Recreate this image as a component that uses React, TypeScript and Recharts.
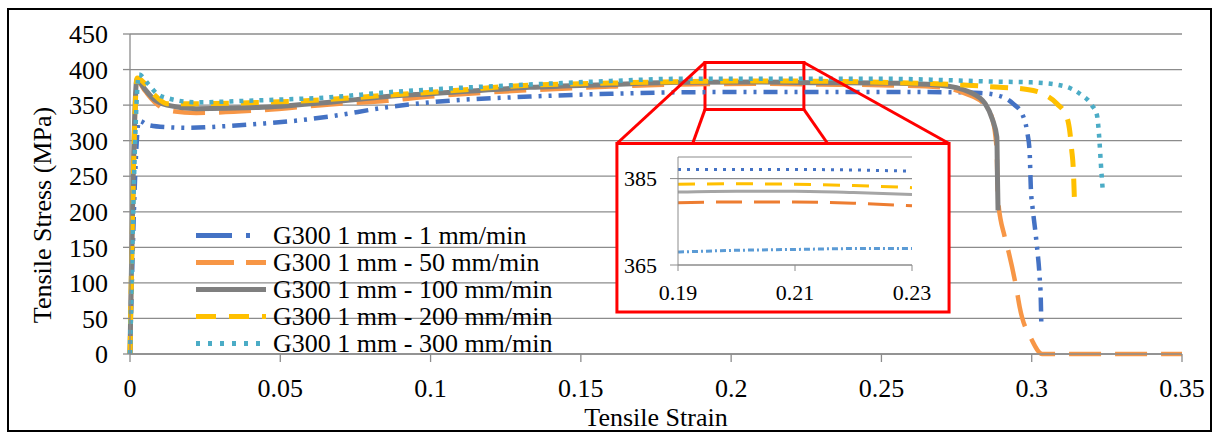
import React from 'react'
import {
  LineChart,
  Line,
  XAxis,
  YAxis,
  CartesianGrid,
  Legend,
  ReferenceArea,
  ReferenceLine,
} from 'recharts'

const FONT = 'Liberation Serif, DejaVu Serif, serif'
const GRID = '#8C8C8C'
const RED = '#FF0000'
const TICK = { fill: '#000', fontSize: 26, fontFamily: FONT }
const INSET_TICK = { fill: '#000', fontSize: 22, fontFamily: FONT }

const STRAIN_TICKS = [0, 0.05, 0.1, 0.15, 0.2, 0.25, 0.3, 0.35]
const STRESS_TICKS = [0, 50, 100, 150, 200, 250, 300, 350, 400, 450]
const INSET_STRAIN_TICKS = [0.19, 0.21, 0.23]
const INSET_STRESS_TICKS = [365, 385]

// [strain, stress MPa]
const RATE_1: [number, number][] = [
  [0, 0], [0.003, 328], [0.006, 322], [0.012, 319], [0.02, 318], [0.03, 320], [0.044, 324],
  [0.055, 328], [0.0665, 334], [0.0855, 347], [0.1, 354], [0.133, 362], [0.16, 366],
  [0.183, 368], [0.21, 368.5], [0.25, 368.5], [0.275, 368], [0.283, 367], [0.29, 362],
  [0.2938, 352], [0.297, 336], [0.2985, 312], [0.2993, 285], [0.2997, 234], [0.3003, 205],
  [0.301, 180], [0.3017, 153], [0.3027, 104], [0.303, 80], [0.3032, 41],
]
const RATE_50: [number, number][] = [
  [0, 0], [0.0024, 384], [0.005, 370], [0.008, 355], [0.0123, 343], [0.022, 339], [0.0443, 343],
  [0.0665, 351], [0.0855, 356], [0.1, 362], [0.133, 371], [0.16, 376], [0.183, 379], [0.21, 380],
  [0.23, 379], [0.25, 378], [0.27, 375], [0.278, 366], [0.2845, 350], [0.287, 329], [0.2883, 290],
  [0.2888, 216], [0.291, 165], [0.2924, 142], [0.295, 90], [0.296, 66], [0.3, 20], [0.3035, 0],
  [0.35, 0],
]
const RATE_100: [number, number][] = [
  [0, 0], [0.0023, 386], [0.005, 372], [0.008, 358], [0.0123, 350], [0.022, 345], [0.0443, 347],
  [0.0665, 354], [0.0855, 362], [0.1, 366], [0.133, 375], [0.16, 379], [0.183, 382], [0.21, 382.5],
  [0.23, 381.5], [0.25, 381], [0.2695, 378], [0.2795, 368], [0.2845, 352], [0.287, 329],
  [0.2884, 305], [0.2886, 250], [0.2888, 202],
]
const RATE_200: [number, number][] = [
  [0, 0], [0.0024, 388], [0.005, 380], [0.008, 365], [0.0123, 352], [0.022, 352], [0.0443, 354],
  [0.0665, 358], [0.0855, 364], [0.1, 368], [0.133, 378], [0.16, 381], [0.183, 383], [0.21, 384],
  [0.23, 383.5], [0.25, 382], [0.2785, 378], [0.2894, 375], [0.2985, 372], [0.3037, 366],
  [0.3084, 352], [0.3117, 333], [0.3127, 312], [0.3133, 287], [0.3138, 263], [0.3143, 205],
]
const RATE_300: [number, number][] = [
  [0, 0], [0.003, 393], [0.006, 380], [0.009, 366], [0.0123, 360], [0.022, 354], [0.0443, 357],
  [0.0665, 361], [0.0855, 368], [0.1, 372], [0.133, 379], [0.16, 384], [0.183, 387], [0.21, 387],
  [0.25, 387], [0.2885, 383], [0.3, 382], [0.3094, 378], [0.3127, 374], [0.316, 366], [0.32, 350],
  [0.3217, 336], [0.3224, 308], [0.323, 268], [0.3237, 226],
]

// zoomed window 0.19 - 0.23
const INSET_1: [number, number][] = [[0.19, 368.0], [0.2, 368.4], [0.21, 368.6], [0.22, 368.8], [0.23, 368.8]]
const INSET_50: [number, number][] = [[0.19, 379.4], [0.2, 379.6], [0.21, 379.6], [0.22, 379.3], [0.23, 378.7]]
const INSET_100: [number, number][] = [[0.19, 381.9], [0.2, 382.1], [0.21, 382.1], [0.22, 381.8], [0.23, 381.3]]
const INSET_200: [number, number][] = [[0.19, 383.7], [0.2, 383.8], [0.21, 383.7], [0.22, 383.4], [0.23, 382.9]]
const INSET_300: [number, number][] = [[0.19, 387.1], [0.2, 387.1], [0.21, 387.1], [0.22, 387.0], [0.23, 386.7]]

// annotation boxes in data units
const ZOOM_BOX = { x1: 0.1913, x2: 0.2242, y1: 344, y2: 410 }
const INSET_BOX = { x1: 0.162, x2: 0.2725, y1: 59, y2: 296 }
const LINK_FOOT = [0.1872, 0.2321]

const toPts = (arr: [number, number][]) => arr.map(([strain, stress]) => ({ strain, stress }))

const SERIES = [
  { key: 'r1', name: 'G300 1 mm - 1 mm/min', points: RATE_1, inset: INSET_1, color: '#4472C4', insetColor: '#5B9BD5', width: 4.5, dash: '14 7 3 7 3 7', legendDash: '36 14 4 40', insetDash: '6 3 2 3' },
  { key: 'r50', name: 'G300 1 mm - 50 mm/min', points: RATE_50, inset: INSET_50, color: '#F79646', insetColor: '#ED7D31', width: 4.5, dash: '32 14', legendDash: '38 12', insetDash: '26 12' },
  { key: 'r100', name: 'G300 1 mm - 100 mm/min', points: RATE_100, inset: INSET_100, color: '#7F7F7F', insetColor: '#A5A5A5', width: 5, dash: undefined, legendDash: undefined, insetDash: undefined },
  { key: 'r200', name: 'G300 1 mm - 200 mm/min', points: RATE_200, inset: INSET_200, color: '#FFC000', insetColor: '#FFC000', width: 5, dash: '18 12', legendDash: '20 13', insetDash: '17 12' },
  { key: 'r300', name: 'G300 1 mm - 300 mm/min', points: RATE_300, inset: INSET_300, color: '#4BACC6', insetColor: '#4472C4', width: 4.5, dash: '4 6', legendDash: '4 8', insetDash: '3 6' },
]

function SeriesLegend() {
  return (
    <div style={{ fontFamily: FONT, fontSize: 26, color: '#000' }}>
      {SERIES.map(s => (
        <div key={s.key} style={{ display: 'flex', alignItems: 'center', height: 27 }}>
          <svg width={72} height={27} style={{ flex: 'none' }}>
            <line x1={1} x2={71} y1={13.5} y2={13.5} stroke={s.color} strokeWidth={5} strokeDasharray={s.legendDash} />
          </svg>
          <span style={{ marginLeft: 6, lineHeight: '27px', whiteSpace: 'nowrap' }}>{s.name}</span>
        </div>
      ))}
    </div>
  )
}

const yTitle = () => (
  <text x={42} y={215} transform="rotate(-90 42 215)" textAnchor="middle" dominantBaseline="central" fontSize={26} fontFamily={FONT} fill="#000">
    Tensile Stress (MPa)
  </text>
)

const xTitle = () => (
  <text x={656} y={426} textAnchor="middle" fontSize={26} fontFamily={FONT} fill="#000">
    Tensile Strain
  </text>
)

function MainChart() {
  return (
    <LineChart width={1219} height={437} margin={{ top: 34, right: 37, bottom: 43, left: 70 }}>
      <CartesianGrid vertical={false} stroke={GRID} strokeWidth={1.3} />
      <XAxis
        dataKey="strain"
        type="number"
        domain={[0, 0.35]}
        ticks={STRAIN_TICKS}
        height={40}
        stroke={GRID}
        strokeWidth={1.3}
        tick={TICK}
        tickSize={8}
        tickMargin={17}
        label={xTitle}
      />
      <YAxis
        type="number"
        domain={[0, 450]}
        ticks={STRESS_TICKS}
        width={60}
        stroke={GRID}
        strokeWidth={1.3}
        tick={TICK}
        tickSize={7}
        tickMargin={15}
        label={yTitle}
      />
      <ReferenceArea {...INSET_BOX} fill="#fff" fillOpacity={1} stroke={RED} strokeWidth={3} />
      {SERIES.map(s => (
        <Line
          key={s.key}
          data={toPts(s.points)}
          dataKey="stress"
          name={s.name}
          type="monotone"
          stroke={s.color}
          strokeWidth={s.width}
          strokeDasharray={s.dash}
          dot={false}
          activeDot={false}
          isAnimationActive={false}
        />
      ))}
      <ReferenceArea {...ZOOM_BOX} fill="none" fillOpacity={0} stroke={RED} strokeWidth={3} />
      <ReferenceLine segment={[{ x: ZOOM_BOX.x1, y: ZOOM_BOX.y2 }, { x: INSET_BOX.x1, y: INSET_BOX.y2 }]} stroke={RED} strokeWidth={3} />
      <ReferenceLine segment={[{ x: ZOOM_BOX.x1, y: ZOOM_BOX.y1 }, { x: LINK_FOOT[0], y: INSET_BOX.y2 }]} stroke={RED} strokeWidth={3} />
      <ReferenceLine segment={[{ x: ZOOM_BOX.x2, y: ZOOM_BOX.y1 }, { x: LINK_FOOT[1], y: INSET_BOX.y2 }]} stroke={RED} strokeWidth={3} />
      <ReferenceLine segment={[{ x: ZOOM_BOX.x2, y: ZOOM_BOX.y2 }, { x: INSET_BOX.x2, y: INSET_BOX.y2 }]} stroke={RED} strokeWidth={3} />
      <Legend
        layout="vertical"
        align="center"
        verticalAlign="middle"
        content={() => <SeriesLegend />}
        wrapperStyle={{ left: 195, top: 221.5, width: 400 }}
      />
    </LineChart>
  )
}

function InsetChart() {
  return (
    <LineChart width={328} height={164} margin={{ top: 11, right: 35, bottom: 0, left: 0 }}>
      <CartesianGrid vertical={false} stroke={GRID} strokeWidth={1.2} />
      <XAxis
        dataKey="strain"
        type="number"
        domain={[0.19, 0.23]}
        ticks={INSET_STRAIN_TICKS}
        height={45}
        stroke={GRID}
        tick={INSET_TICK}
        tickSize={6}
        tickMargin={13}
      />
      <YAxis
        type="number"
        domain={[365, 390]}
        ticks={INSET_STRESS_TICKS}
        width={59}
        stroke={GRID}
        tick={INSET_TICK}
        tickSize={8}
        tickMargin={13}
      />
      {SERIES.map(s => (
        <Line
          key={s.key}
          data={toPts(s.inset)}
          dataKey="stress"
          type="monotone"
          stroke={s.insetColor}
          strokeWidth={3}
          strokeDasharray={s.insetDash}
          dot={false}
          activeDot={false}
          isAnimationActive={false}
        />
      ))}
    </LineChart>
  )
}

export default function App() {
  return (
    <div style={{ position: 'absolute', left: 0, top: 0, width: 1219, height: 437, background: '#fff' }}>
      <div style={{ position: 'absolute', left: 7, top: 8, width: 1205, height: 424, border: '2px solid #000', boxSizing: 'border-box' }} />
      <div style={{ position: 'absolute', left: 0, top: 0 }}>
        <MainChart />
      </div>
      <div style={{ position: 'absolute', left: 619, top: 146 }}>
        <InsetChart />
      </div>
    </div>
  )
}
